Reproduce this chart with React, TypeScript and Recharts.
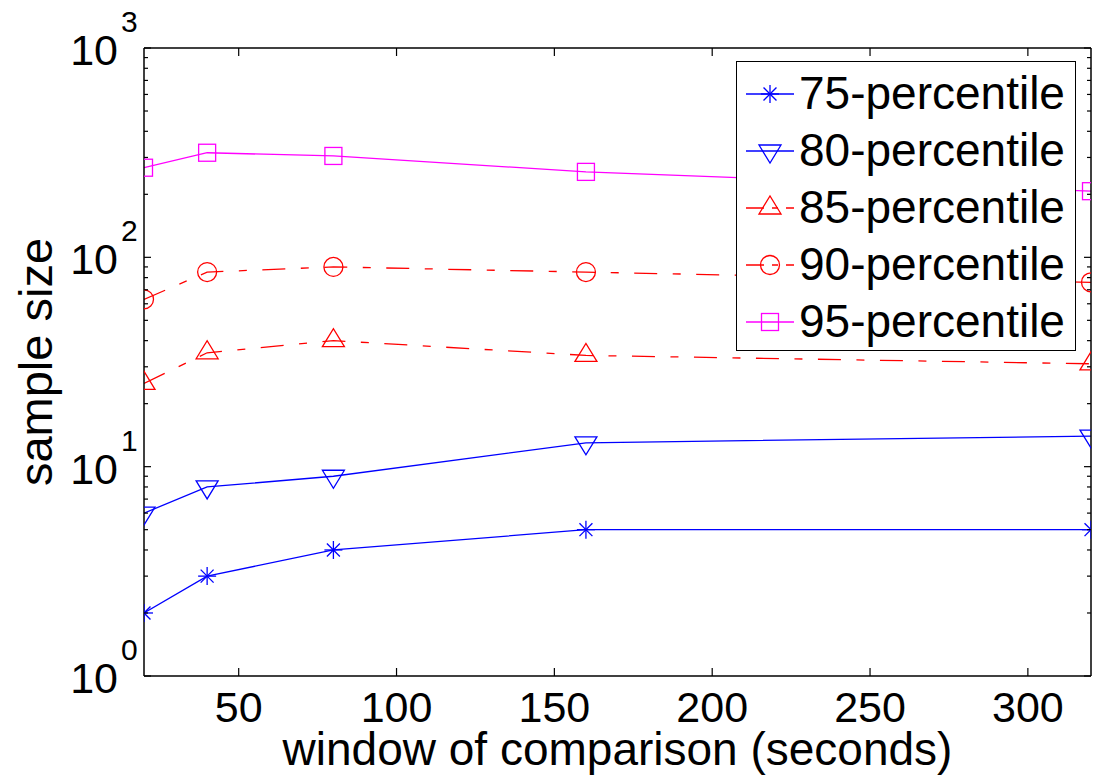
import { LineChart, Line, XAxis, YAxis } from 'recharts';

const windows = [20, 40, 80, 160, 320];
const p75 = [2, 3, 4, 5, 5];
const p80 = [6, 8, 9, 13, 14];
const p85 = [25, 35, 40, 34, 31];
const p90 = [63, 85, 90, 85, 76];
const p95 = [268, 316, 305, 256, 207];

const xTicks = [50, 100, 150, 200, 250, 300];
const yTicks = [
  1, 2, 3, 4, 5, 6, 7, 8, 9,
  10, 20, 30, 40, 50, 60, 70, 80, 90,
  100, 200, 300, 400, 500, 600, 700, 800, 900,
  1000,
];

const FONT = '"Liberation Sans", Arial, Helvetica, sans-serif';
const BLUE = '#0000ff';
const RED = '#ff0000';
const MAGENTA = '#ff00ff';
const DASHDOT = '23 15.5 8 15.5';

type Shape = 'star' | 'down' | 'up' | 'circle' | 'square';

const series: { key: string; name: string; color: string; dash?: string; shape: Shape }[] = [
  { key: 'p75', name: '75-percentile', color: BLUE, shape: 'star' },
  { key: 'p80', name: '80-percentile', color: BLUE, shape: 'down' },
  { key: 'p85', name: '85-percentile', color: RED, dash: DASHDOT, shape: 'up' },
  { key: 'p90', name: '90-percentile', color: RED, dash: DASHDOT, shape: 'circle' },
  { key: 'p95', name: '95-percentile', color: MAGENTA, shape: 'square' },
];

const data = windows.map((w, i) => ({
  w,
  p75: p75[i],
  p80: p80[i],
  p85: p85[i],
  p90: p90[i],
  p95: p95[i],
}));

function Marker({ cx, cy, shape, color }: { cx: number; cy: number; shape: Shape; color: string }) {
  const p = { fill: 'none', stroke: color, strokeWidth: 1.3 };
  if (shape === 'star') {
    const r = 9;
    const d = r * 0.72;
    return (
      <g {...p}>
        <line x1={cx - r} y1={cy} x2={cx + r} y2={cy} />
        <line x1={cx} y1={cy - r} x2={cx} y2={cy + r} />
        <line x1={cx - d} y1={cy - d} x2={cx + d} y2={cy + d} />
        <line x1={cx - d} y1={cy + d} x2={cx + d} y2={cy - d} />
      </g>
    );
  }
  if (shape === 'down') {
    return <polygon {...p} points={`${cx - 11},${cy - 6} ${cx + 11},${cy - 6} ${cx},${cy + 12}`} />;
  }
  if (shape === 'up') {
    return <polygon {...p} points={`${cx - 11},${cy + 6} ${cx + 11},${cy + 6} ${cx},${cy - 12}`} />;
  }
  if (shape === 'circle') {
    return <circle {...p} cx={cx} cy={cy} r={9.5} />;
  }
  return <rect {...p} x={cx - 8.5} y={cy - 8.5} width={17} height={17} />;
}

const YTickLeft = (props: any) => {
  const { x, y, payload } = props;
  const v = payload.value;
  const exp = Math.round(Math.log10(v));
  const major = Math.abs(Math.log10(v) - exp) < 1e-6;
  return (
    <g>
      <line x1={x} y1={y} x2={x + (major ? 7 : 4)} y2={y} stroke="#000" strokeWidth={1.2} />
      {major && (
        <g fontFamily={FONT} fill="#000">
          <text x={x - 26} y={y + 17} fontSize={43} textAnchor="end">10</text>
          <text x={x - 23} y={y - 16} fontSize={30} textAnchor="start">{exp}</text>
        </g>
      )}
    </g>
  );
};

const YTickRight = (props: any) => {
  const { x, y, payload } = props;
  const v = payload.value;
  const major = Math.abs(Math.log10(v) - Math.round(Math.log10(v))) < 1e-6;
  return <line x1={x} y1={y} x2={x - (major ? 7 : 4)} y2={y} stroke="#000" strokeWidth={1.2} />;
};

const XTickBottom = (props: any) => {
  const { x, y, payload } = props;
  return (
    <g>
      <line x1={x} y1={y} x2={x} y2={y - 8} stroke="#000" strokeWidth={1.2} />
      <text x={x} y={y + 46} fontSize={43} fontFamily={FONT} textAnchor="middle" fill="#000">
        {payload.value}
      </text>
    </g>
  );
};

const XTickTop = (props: any) => {
  const { x, y } = props;
  return <line x1={x} y1={y} x2={x} y2={y + 8} stroke="#000" strokeWidth={1.2} />;
};

const YLabel = (props: any) => {
  const { viewBox } = props;
  const cy = viewBox.y + viewBox.height / 2;
  const bx = viewBox.x + 52;
  return (
    <text
      x={bx}
      y={cy}
      transform={`rotate(-90, ${bx}, ${cy})`}
      textAnchor="middle"
      fontSize={47}
      fontFamily={FONT}
      fill="#000"
    >
      sample size
    </text>
  );
};

function LegendBox() {
  return (
    <div
      style={{
        position: 'absolute',
        left: 736,
        top: 61,
        width: 340,
        height: 290,
        border: '1.5px solid #000',
        background: '#fff',
        boxSizing: 'border-box',
        fontFamily: FONT,
      }}
    >
      {series.map((s, i) => (
        <div
          key={s.key}
          style={{
            position: 'absolute',
            left: 8,
            top: 3 + i * 57,
            height: 57,
            display: 'flex',
            alignItems: 'center',
          }}
        >
          <svg width={50} height={30} style={{ display: 'block' }}>
            <line x1={1} y1={15} x2={49} y2={15} stroke={s.color} strokeWidth={1.3} strokeDasharray={s.dash ? '18 8 6 8' : undefined} />
            <Marker cx={25} cy={15} shape={s.shape} color={s.color} />
          </svg>
          <span style={{ fontSize: 46, lineHeight: '57px', marginLeft: 4, color: '#000' }}>{s.name}</span>
        </div>
      ))}
    </div>
  );
}

export default function App() {
  return (
    <div style={{ position: 'relative', width: 1094, height: 778, overflow: 'hidden', background: '#fff' }}>
      <style>{'body { margin: 0; }'}</style>
      <LineChart width={1094} height={778} data={data} margin={{ top: 0, right: 0, left: 0, bottom: 0 }}>
        <XAxis
          dataKey="w"
          type="number"
          domain={[20, 320]}
          ticks={xTicks}
          interval={0}
          allowDataOverflow
          height={102}
          tickSize={0}
          tickMargin={0}
          tickLine={false}
          axisLine={{ stroke: '#000', strokeWidth: 1.5 }}
          tick={<XTickBottom />}
          label={{ value: 'window of comparison (seconds)', position: 'insideBottom', offset: 13, fontSize: 46, fontFamily: FONT, fill: '#000' }}
        />
        <XAxis
          xAxisId="top"
          orientation="top"
          dataKey="w"
          type="number"
          domain={[20, 320]}
          ticks={xTicks}
          interval={0}
          allowDataOverflow
          height={48}
          tickSize={0}
          tickMargin={0}
          tickLine={false}
          axisLine={{ stroke: '#000', strokeWidth: 1.5 }}
          tick={<XTickTop />}
        />
        <YAxis
          scale="log"
          type="number"
          domain={[1, 1000]}
          ticks={yTicks}
          interval={0}
          allowDataOverflow
          width={144}
          tickSize={0}
          tickMargin={0}
          tickLine={false}
          axisLine={{ stroke: '#000', strokeWidth: 1.5 }}
          tick={<YTickLeft />}
          label={<YLabel />}
        />
        <YAxis
          yAxisId="right"
          orientation="right"
          scale="log"
          type="number"
          domain={[1, 1000]}
          ticks={yTicks}
          interval={0}
          allowDataOverflow
          width={3}
          tickSize={0}
          tickMargin={0}
          tickLine={false}
          axisLine={{ stroke: '#000', strokeWidth: 1.5 }}
          tick={<YTickRight />}
        />
        {series.map((s) => (
          <Line
            key={s.key}
            dataKey={s.key}
            name={s.name}
            type="linear"
            stroke={s.color}
            strokeWidth={1.3}
            strokeDasharray={s.dash}
            isAnimationActive={false}
            dot={(p: any) => <Marker key={`${s.key}-${p.index}`} cx={p.cx} cy={p.cy} shape={s.shape} color={s.color} />}
            activeDot={false}
            legendType="none"
          />
        ))}
      </LineChart>
      <LegendBox />
    </div>
  );
}
